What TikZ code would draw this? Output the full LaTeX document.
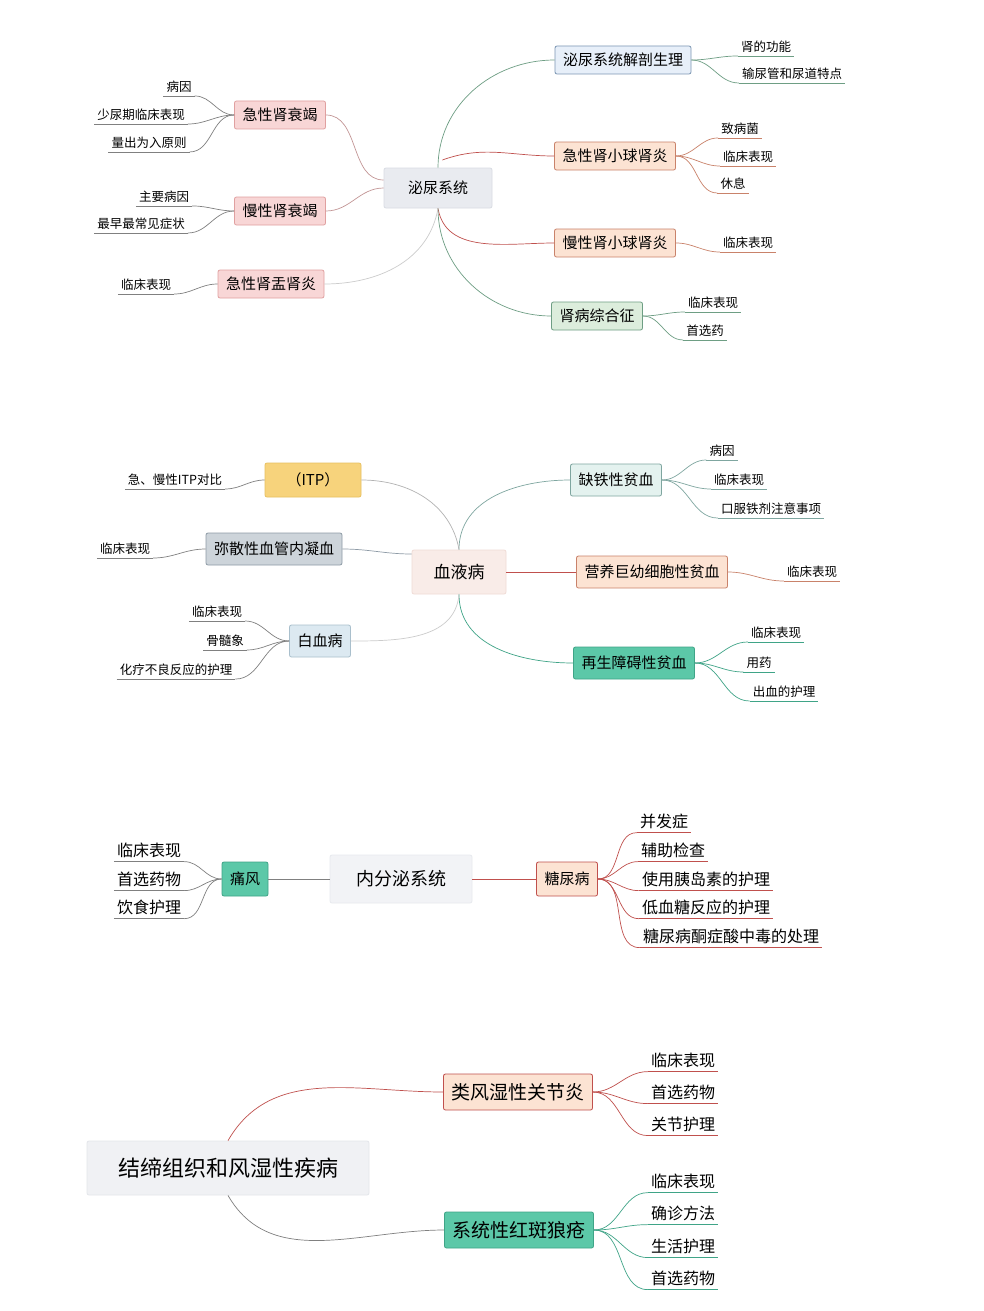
\documentclass[tikz,border=0pt]{standalone}
\usepackage{fontspec}
\setmainfont{Noto Sans CJK SC}
\begin{document}
\begin{tikzpicture}[x=1pt,y=-1pt,
 box/.style={rounded corners=2pt,draw,line width=0.8pt,inner xsep=8pt,minimum height=28pt,font=\fontsize{15}{15}\selectfont},
 leaf/.style={inner xsep=3pt,inner ysep=3pt,font=\fontsize{12.5}{13}\selectfont},
 bleaf/.style={inner xsep=3pt,inner ysep=4pt,font=\fontsize{16}{17}\selectfont},
 con/.style={line width=0.7pt}]
\definecolor{gbg}{HTML}{E9EBF0}\definecolor{gbd}{HTML}{D8DCE3}
\definecolor{bbg}{HTML}{E7EFF9}\definecolor{bbd}{HTML}{7C96B3}
\definecolor{pbg}{HTML}{FCE3D3}\definecolor{pbd}{HTML}{C9826A}
\definecolor{rbg}{HTML}{F8D6D6}\definecolor{rbd}{HTML}{E0A0A0}
\definecolor{nbg}{HTML}{DCEDDC}\definecolor{nbd}{HTML}{6E9E84}
\definecolor{tbg}{HTML}{E4F2EF}\definecolor{tbd}{HTML}{7FA6A0}
\definecolor{teal}{HTML}{5CC8A8}\definecolor{teald}{HTML}{3FA487}
\definecolor{ybg}{HTML}{F7D37C}\definecolor{ybd}{HTML}{E8C060}
\definecolor{sbg}{HTML}{CDD4DA}\definecolor{sbd}{HTML}{8E9BA6}
\definecolor{lbbg}{HTML}{DCE9F1}\definecolor{lbbd}{HTML}{A9BFCC}
\definecolor{hbg}{HTML}{F9ECE8}\definecolor{hbd}{HTML}{F0DCD6}
\definecolor{redl}{HTML}{C0504D}
\fill[white] (0,0) rectangle (983,1311);
\newcommand\LF[5][leaf]{\node[#1] (#2) at (#3) {#4}; \draw[con,#5] (#2.south west)--(#2.south east);}
% ===== section 1
\node[box,fill=gbg,draw=gbd,minimum height=40pt,minimum width=108pt] (c1) at (438,188) {泌尿系统};
\node[box,fill=bbg,draw=bbd] (a1) at (623,60) {泌尿系统解剖生理};
\node[box,fill=pbg,draw=pbd] (a2) at (615,156) {急性肾小球肾炎};
\node[box,fill=pbg,draw=pbd] (a3) at (615,243) {慢性肾小球肾炎};
\node[box,fill=nbg,draw=nbd] (a4) at (597,316) {肾病综合征};
\node[box,fill=rbg,draw=rbd] (a5) at (280,115) {急性肾衰竭};
\node[box,fill=rbg,draw=rbd] (a6) at (280,211) {慢性肾衰竭};
\node[box,fill=rbg,draw=rbd] (a7) at (271,284) {急性肾盂肾炎};
\draw[con,nbd] (c1.north) to[out=90,in=180] (a1.west);
\draw[con,redl] (c1.east) ++(-50,-28) to[out=20,in=180] (a2.west);
\draw[con,redl] (c1.south) to[out=-80,in=180] (a3.west);
\draw[con,nbd] (c1.south) to[out=-90,in=180] (a4.west);
\draw[con,rbd!70!gray] (c1.west) ++(0,-8) to[out=180,in=0] (a5.east);
\draw[con,rbd!70!gray] (c1.west) to[out=180,in=0] (a6.east);
\draw[con,gray!40] (c1.south) to[out=-100,in=0] (a7.east);
\LF{l1}{766,47}{肾的功能}{nbd}
\LF{l2}{792,74}{输尿管和尿道特点}{nbd}
\LF{l3}{740,129}{致病菌}{pbd}
\LF{l4}{748,157}{临床表现}{pbd}
\LF{l5}{733,184}{休息}{pbd}
\LF{l6}{748,243}{临床表现}{pbd}
\LF{l7}{713,303}{临床表现}{nbd}
\LF{l8}{705,331}{首选药}{nbd}
\LF{l9}{179,87}{病因}{gray}
\LF{l10}{141,115}{少尿期临床表现}{gray}
\LF{l11}{149,143}{量出为入原则}{gray}
\LF{l12}{164,197}{主要病因}{gray}
\LF{l13}{141,224}{最早最常见症状}{gray}
\LF{l14}{146,285}{临床表现}{gray}
\foreach \l in {l1,l2}{\draw[con,nbd] (a1.east) to[out=0,in=180] (\l.south west);}
\foreach \l in {l3,l4,l5}{\draw[con,pbd] (a2.east) to[out=0,in=180] (\l.south west);}
\draw[con,pbd] (a3.east) to[out=0,in=180] (l6.south west);
\foreach \l in {l7,l8}{\draw[con,nbd] (a4.east) to[out=0,in=180] (\l.south west);}
\foreach \l in {l9,l10,l11}{\draw[con,gray] (a5.west) to[out=180,in=0] (\l.south east);}
\foreach \l in {l12,l13}{\draw[con,gray] (a6.west) to[out=180,in=0] (\l.south east);}
\draw[con,gray] (a7.west) to[out=180,in=0] (l14.south east);
% ===== section 2
\node[box,fill=hbg,draw=hbd,minimum height=44pt,minimum width=94pt,font=\fontsize{17}{17}\selectfont] (c2) at (459,572) {血液病};
\node[box,fill=tbg,draw=tbd,minimum height=32pt] (b1) at (616,480) {缺铁性贫血};
\node[box,fill=pbg,draw=pbd,minimum height=32pt] (b2) at (652,572) {营养巨幼细胞性贫血};
\node[box,fill=teal,draw=teald,minimum height=32pt] (b3) at (634,663) {再生障碍性贫血};
\node[box,fill=ybg,draw=ybd,minimum height=34pt,minimum width=96pt] (b4) at (313,480) {（ITP）};
\node[box,fill=sbg,draw=sbd,minimum height=32pt] (b5) at (274,549) {弥散性血管内凝血};
\node[box,fill=lbbg,draw=lbbd,minimum height=32pt] (b6) at (320,641) {白血病};
\draw[con,tbd] (c2.north) to[out=90,in=180] (b1.west);
\draw[con,redl] (c2.east) -- (b2.west);
\draw[con,teald] (c2.south) to[out=-90,in=180] (b3.west);
\draw[con,gray!60] (c2.north) to[out=100,in=0] (b4.east);
\draw[con,sbd] (c2.west) ++(0,-18) to[out=180,in=0] (b5.east);
\draw[con,gray!40] (c2.south) to[out=-95,in=0] (b6.east);
\LF{m1}{722,451}{病因}{tbd}
\LF{m2}{739,480}{临床表现}{tbd}
\LF{m3}{771,509}{口服铁剂注意事项}{tbd}
\LF{m4}{812,572}{临床表现}{pbd}
\LF{m5}{776,633}{临床表现}{teald}
\LF{m6}{759,663}{用药}{teald}
\LF{m7}{784,692}{出血的护理}{teald}
\LF{m8}{175,480}{急、慢性ITP对比}{gray}
\LF{m9}{125,549}{临床表现}{gray}
\LF{m10}{217,612}{临床表现}{gray}
\LF{m11}{225,641}{骨髓象}{gray}
\LF{m12}{176,670}{化疗不良反应的护理}{gray}
\foreach \l in {m1,m2,m3}{\draw[con,tbd] (b1.east) to[out=0,in=180] (\l.south west);}
\draw[con,pbd] (b2.east) to[out=0,in=180] (m4.south west);
\foreach \l in {m5,m6,m7}{\draw[con,teald] (b3.east) to[out=0,in=180] (\l.south west);}
\draw[con,gray] (b4.west) to[out=180,in=0] (m8.south east);
\draw[con,gray] (b5.west) to[out=180,in=0] (m9.south east);
\foreach \l in {m10,m11,m12}{\draw[con,gray] (b6.west) to[out=180,in=0] (\l.south east);}
% ===== section 3
\node[box,fill=gbg!60,draw=gbd!60,minimum height=48pt,minimum width=142pt,font=\fontsize{18}{18}\selectfont] (c3) at (401,879) {内分泌系统};
\node[box,fill=teal,draw=teald,minimum height=34pt] (d1) at (245,879) {痛风};
\node[box,fill=pbg,draw=redl,minimum height=34pt] (d2) at (567,879) {糖尿病};
\draw[con,gray] (c3.west) -- (d1.east);
\draw[con,redl] (c3.east) -- (d2.west);
\LF[bleaf]{n1}{149,850}{临床表现}{gray}
\LF[bleaf]{n2}{149,879}{首选药物}{gray}
\LF[bleaf]{n3}{149,907}{饮食护理}{gray}
\LF[bleaf]{n4}{664,821}{并发症}{redl}
\LF[bleaf]{n5}{673,850}{辅助检查}{redl}
\LF[bleaf]{n6}{706,879}{使用胰岛素的护理}{redl}
\LF[bleaf]{n7}{706,907}{低血糖反应的护理}{redl}
\LF[bleaf]{n8}{731,936}{糖尿病酮症酸中毒的处理}{redl}
\foreach \l in {n1,n2,n3}{\draw[con,gray] (d1.west) to[out=180,in=0] (\l.south east);}
\foreach \l in {n4,n5,n6,n7,n8}{\draw[con,redl] (d2.east) to[out=0,in=180] (\l.south west);}
% ===== section 4
\node[box,fill=gbg!70,draw=gbd!70,minimum height=54pt,minimum width=282pt,font=\fontsize{22}{22}\selectfont] (c4) at (228,1168) {结缔组织和风湿性疾病};
\node[box,fill=pbg,draw=redl,minimum height=36pt,font=\fontsize{19}{19}\selectfont] (e1) at (518,1092) {类风湿性关节炎};
\node[box,fill=teal,draw=teald,minimum height=36pt,font=\fontsize{19}{19}\selectfont] (e2) at (519,1230) {系统性红斑狼疮};
\draw[con,redl] (c4.north) to[out=60,in=180] (e1.west);
\draw[con,gray] (c4.south) to[out=-60,in=180] (e2.west);
\LF[bleaf]{p1}{683,1060}{临床表现}{redl}
\LF[bleaf]{p2}{683,1092}{首选药物}{redl}
\LF[bleaf]{p3}{683,1124}{关节护理}{redl}
\LF[bleaf]{p4}{683,1181}{临床表现}{teald}
\LF[bleaf]{p5}{683,1213}{确诊方法}{teald}
\LF[bleaf]{p6}{683,1246}{生活护理}{teald}
\LF[bleaf]{p7}{683,1278}{首选药物}{teald}
\foreach \l in {p1,p2,p3}{\draw[con,redl] (e1.east) to[out=0,in=180] (\l.south west);}
\foreach \l in {p4,p5,p6,p7}{\draw[con,teald] (e2.east) to[out=0,in=180] (\l.south west);}
\end{tikzpicture}
\end{document}
